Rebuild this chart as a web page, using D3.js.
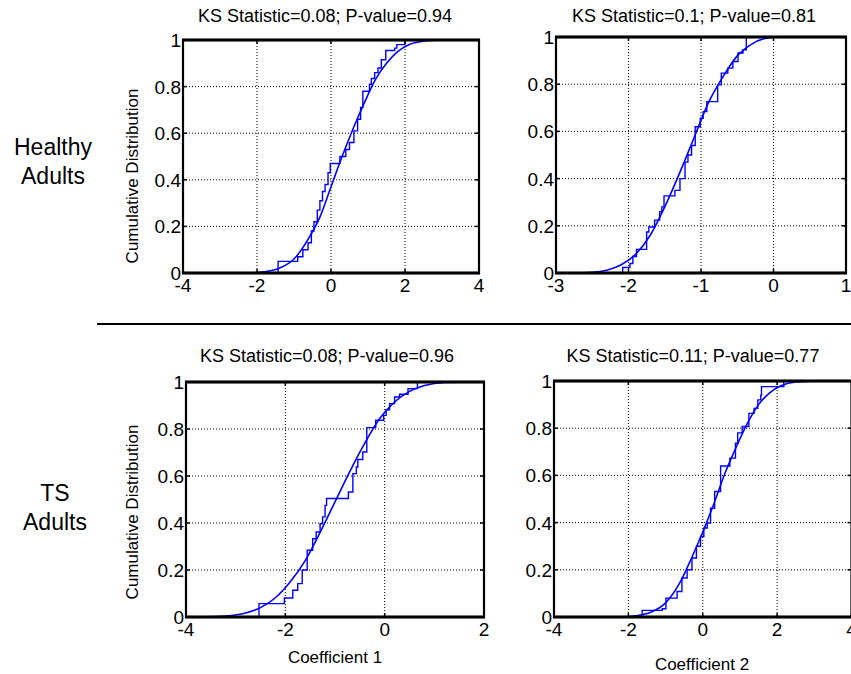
<!DOCTYPE html>
<html>
<head>
<meta charset="utf-8">
<script src="https://cdn.jsdelivr.net/npm/d3@7"></script>
<style>
  body { margin: 0; background: #fff; }
  svg { display: block; }
  text { font-family: "Liberation Sans", Arial, sans-serif; fill: #000; }
</style>
</head>
<body>
<svg id="chart" width="851" height="674"></svg>
<script>
// ---------------- DATA ----------------
const titles = [
  "KS Statistic=0.08; P-value=0.94",
  "KS Statistic=0.1; P-value=0.81",
  "KS Statistic=0.08; P-value=0.96",
  "KS Statistic=0.11; P-value=0.77"
];
const rowLabels = [["Healthy", "Adults"], ["TS", "Adults"]];
const yLabel = "Cumulative Distribution";
const xLabels = ["Coefficient 1", "Coefficient 2"];

const yTicks = [0, 0.2, 0.4, 0.6, 0.8, 1];
const yTickLabels = ["0", "0.2", "0.4", "0.6", "0.8", "1"];
const p1XTicks = [-4, -2, 0, 2, 4];
const p2XTicks = [-3, -2, -1, 0, 1];
const p3XTicks = [-4, -2, 0, 2];
const p4XTicks = [-4, -2, 0, 2, 4];

// Panel 1: Healthy, coefficient 1
const p1StepX = [-1.43, -0.90, -0.76, -0.62, -0.53, -0.46, -0.37, -0.30, -0.23, -0.16, -0.08, -0.02, 0.24, 0.40, 0.50, 0.62, 0.72, 0.80, 0.86, 1.04, 1.09, 1.18, 1.27, 1.36, 1.48, 1.72, 1.78, 2.00];
const p1StepY = [0.05, 0.07, 0.10, 0.13, 0.18, 0.22, 0.27, 0.31, 0.35, 0.38, 0.43, 0.47, 0.50, 0.53, 0.56, 0.61, 0.66, 0.71, 0.78, 0.81, 0.835, 0.86, 0.88, 0.915, 0.955, 0.965, 0.98, 1.00];
const p1FitX = [-2.2, -1.8, -1.4, -1.0, -0.6, -0.3, 0.0, 0.3, 0.6, 0.9, 1.2, 1.5, 1.8, 2.1, 2.5, 3.0];
const p1FitY = [0.0, 0.005, 0.02, 0.06, 0.15, 0.24, 0.37, 0.50, 0.62, 0.73, 0.83, 0.90, 0.95, 0.98, 0.995, 1.0];

// Panel 2: Healthy, coefficient 2
const p2StepX = [-2.08, -1.98, -1.94, -1.89, -1.75, -1.72, -1.64, -1.57, -1.54, -1.51, -1.36, -1.29, -1.22, -1.18, -1.13, -1.08, -1.01, -0.97, -0.92, -0.77, -0.72, -0.63, -0.56, -0.49, -0.42, -0.375];
const p2StepY = [0.023, 0.04, 0.07, 0.10, 0.174, 0.195, 0.224, 0.26, 0.28, 0.327, 0.35, 0.40, 0.47, 0.50, 0.54, 0.62, 0.656, 0.684, 0.726, 0.797, 0.847, 0.868, 0.896, 0.932, 0.946, 1.0];
const p2FitX = [-2.8, -2.5, -2.3, -2.1, -1.9, -1.7, -1.5, -1.3, -1.1, -0.9, -0.7, -0.5, -0.3, -0.1, 0.1, 0.4];
const p2FitY = [0.0, 0.003, 0.012, 0.035, 0.08, 0.16, 0.28, 0.42, 0.57, 0.72, 0.83, 0.92, 0.97, 0.995, 1.0, 1.0];

// Panel 3: TS, coefficient 1
const p3StepX = [-2.53, -2.02, -1.85, -1.75, -1.66, -1.56, -1.45, -1.38, -1.30, -1.25, -1.20, -1.17, -0.73, -0.64, -0.57, -0.54, -0.44, -0.36, -0.18, -0.02, 0.03, 0.10, 0.20, 0.30, 0.47, 0.66];
const p3StepY = [0.057, 0.081, 0.114, 0.142, 0.20, 0.284, 0.333, 0.362, 0.397, 0.426, 0.475, 0.504, 0.532, 0.61, 0.638, 0.67, 0.702, 0.806, 0.837, 0.858, 0.882, 0.908, 0.936, 0.948, 0.972, 1.0];
const p3FitX = [-3.7, -3.2, -2.8, -2.5, -2.2, -1.9, -1.6, -1.3, -1.0, -0.7, -0.4, -0.1, 0.2, 0.5, 0.8, 1.2, 2.0];
const p3FitY = [0.0, 0.004, 0.017, 0.04, 0.082, 0.15, 0.24, 0.36, 0.49, 0.62, 0.74, 0.845, 0.915, 0.96, 0.985, 0.998, 1.0];

// Panel 4: TS, coefficient 2
const p4StepX = [-1.63, -1.09, -0.99, -0.69, -0.56, -0.42, -0.29, -0.17, -0.06, 0.03, 0.12, 0.21, 0.32, 0.48, 0.73, 0.88, 0.94, 1.06, 1.24, 1.38, 1.48, 1.56, 1.58, 2.18];
const p4StepY = [0.028, 0.035, 0.08, 0.108, 0.165, 0.20, 0.25, 0.30, 0.341, 0.377, 0.398, 0.461, 0.532, 0.64, 0.673, 0.736, 0.78, 0.807, 0.863, 0.884, 0.92, 0.94, 0.976, 1.0];
const p4FitX = [-2.2, -1.8, -1.4, -1.0, -0.6, -0.3, 0.0, 0.3, 0.6, 0.9, 1.2, 1.5, 1.8, 2.1, 2.5, 3.2];
const p4FitY = [0.0, 0.005, 0.02, 0.06, 0.15, 0.25, 0.36, 0.48, 0.61, 0.72, 0.82, 0.90, 0.95, 0.98, 0.996, 1.0];

// ---------------- LAYOUT ----------------
const panels = [
  { box: [183, 479, 40, 273], xDomain: [-4, 4], xTicks: p1XTicks, stepX: p1StepX, stepY: p1StepY, fitX: p1FitX, fitY: p1FitY, title: titles[0], titleX: 325, titleY: 22, ylabY: 176, xlab: null },
  { box: [556, 846, 37, 273], xDomain: [-3, 1], xTicks: p2XTicks, stepX: p2StepX, stepY: p2StepY, fitX: p2FitX, fitY: p2FitY, title: titles[1], titleX: 694, titleY: 22, ylabY: null, xlab: null },
  { box: [186, 484, 382, 617], xDomain: [-4, 2], xTicks: p3XTicks, stepX: p3StepX, stepY: p3StepY, fitX: p3FitX, fitY: p3FitY, title: titles[2], titleX: 327, titleY: 362, ylabY: 512, xlab: { text: xLabels[0], x: 335, y: 663 } },
  { box: [554, 851.5, 381, 617], xDomain: [-4, 4], xTicks: p4XTicks, stepX: p4StepX, stepY: p4StepY, fitX: p4FitX, fitY: p4FitY, title: titles[3], titleX: 693, titleY: 362, ylabY: null, xlab: { text: xLabels[1], x: 702, y: 670 } }
];

const svg = d3.select("#chart");

panels.forEach((p, i) => {
  const [L, R, T, B] = p.box;
  const x = d3.scaleLinear().domain(p.xDomain).range([L, R]);
  const y = d3.scaleLinear().domain([0, 1]).range([B, T]);
  const g = svg.append("g");

  // grid (dotted)
  g.selectAll("line.gx").data(p.xTicks.filter(t => t > p.xDomain[0] && t < p.xDomain[1]))
    .join("line").attr("class", "gx")
    .attr("x1", d => x(d)).attr("x2", d => x(d)).attr("y1", T).attr("y2", B)
    .attr("stroke", "#000").attr("stroke-width", 1).attr("stroke-dasharray", "1,2");
  g.selectAll("line.gy").data(yTicks.filter(t => t > 0 && t < 1))
    .join("line").attr("class", "gy")
    .attr("x1", L).attr("x2", R).attr("y1", d => y(d)).attr("y2", d => y(d))
    .attr("stroke", "#000").attr("stroke-width", 1).attr("stroke-dasharray", "1,2");

  // data lines
  const clipId = "clip" + i;
  svg.append("clipPath").attr("id", clipId).append("rect")
    .attr("x", L).attr("y", T - 2).attr("width", R - L).attr("height", B - T + 4);
  const gd = g.append("g").attr("clip-path", `url(#${clipId})`);

  const stepPts = [[p.fitX[0], 0]].concat(p.stepX.map((v, k) => [v, p.stepY[k]]));
  stepPts.push([p.fitX[p.fitX.length - 1], 1]);
  const stepLine = d3.line().x(d => x(d[0])).y(d => y(d[1])).curve(d3.curveStepAfter);
  gd.append("path").attr("d", stepLine(stepPts))
    .attr("fill", "none").attr("stroke", "#0000ff").attr("stroke-width", 1.4);

  const fitPts = p.fitX.map((v, k) => [v, p.fitY[k]]);
  const fitLine = d3.line().x(d => x(d[0])).y(d => y(d[1])).curve(d3.curveMonotoneX);
  gd.append("path").attr("d", fitLine(fitPts))
    .attr("fill", "none").attr("stroke", "#0000ff").attr("stroke-width", 1.6);

  // tick marks (inside, all sides)
  const tl = 4;
  p.xTicks.forEach(t => {
    g.append("line").attr("x1", x(t)).attr("x2", x(t)).attr("y1", B).attr("y2", B - tl).attr("stroke", "#000").attr("stroke-width", 1.5);
    g.append("line").attr("x1", x(t)).attr("x2", x(t)).attr("y1", T).attr("y2", T + tl).attr("stroke", "#000").attr("stroke-width", 1.5);
  });
  yTicks.forEach(t => {
    g.append("line").attr("x1", L).attr("x2", L + tl).attr("y1", y(t)).attr("y2", y(t)).attr("stroke", "#000").attr("stroke-width", 1.5);
    g.append("line").attr("x1", R).attr("x2", R - tl).attr("y1", y(t)).attr("y2", y(t)).attr("stroke", "#000").attr("stroke-width", 1.5);
  });

  // frame: thinner sides, heavier top and bottom
  g.append("rect").attr("x", L).attr("y", T).attr("width", R - L).attr("height", B - T)
    .attr("fill", "none").attr("stroke", "#000").attr("stroke-width", 2.2);
  [T, B].forEach(v => {
    g.append("line").attr("x1", L - 1).attr("x2", R + 1).attr("y1", v).attr("y2", v)
      .attr("stroke", "#000").attr("stroke-width", 3);
  });

  // tick labels
  g.selectAll("text.xt").data(p.xTicks).join("text").attr("class", "xt")
    .attr("x", d => x(d)).attr("y", B + 19).attr("text-anchor", "middle")
    .attr("font-size", "19px").text(d => String(d));
  g.selectAll("text.yt").data(yTicks).join("text").attr("class", "yt")
    .attr("x", L - 2).attr("y", d => y(d) + 7).attr("text-anchor", "end")
    .attr("font-size", "19px").text((d, k) => yTickLabels[k]);

  // title
  g.append("text").attr("x", p.titleX).attr("y", p.titleY).attr("text-anchor", "middle")
    .attr("font-size", "18px").text(p.title);

  if (p.ylabY !== null) {
    g.append("text")
      .attr("transform", `translate(138,${p.ylabY}) rotate(-90)`)
      .attr("text-anchor", "middle").attr("font-size", "17px").text(yLabel);
  }
  if (p.xlab) {
    g.append("text").attr("x", p.xlab.x).attr("y", p.xlab.y).attr("text-anchor", "middle")
      .attr("font-size", "17px").text(p.xlab.text);
  }
});

// row labels
const rowPos = [[53, 155], [55, 501]];
rowLabels.forEach((lines, r) => {
  lines.forEach((t, k) => {
    svg.append("text").attr("x", rowPos[r][0]).attr("y", rowPos[r][1] + k * 29)
      .attr("text-anchor", "middle").attr("font-size", "23px").text(t);
  });
});

// separator line
svg.append("line").attr("x1", 97).attr("x2", 851).attr("y1", 324).attr("y2", 324)
  .attr("stroke", "#000").attr("stroke-width", 2);
</script>
</body>
</html>
